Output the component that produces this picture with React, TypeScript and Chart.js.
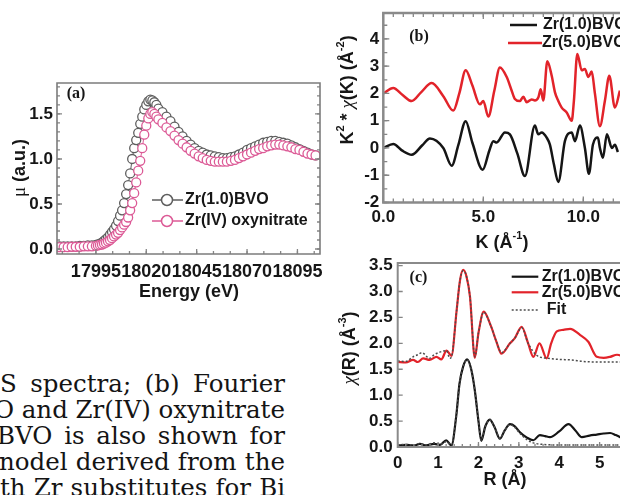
import React, { useEffect, useRef } from 'react';
import { Chart, registerables } from 'chart.js';

Chart.register(...registerables);

// ---------------- Panel (a): XANES ----------------
const energyA = [17977, 17979, 17981, 17983, 17985, 17987, 17989, 17991, 17993, 17995,
  17996, 17997, 17998, 17999, 18000, 18001, 18002, 18003, 18004, 18005, 18006, 18007, 18008, 18009, 18010,
  18011, 18012, 18013, 18014, 18015, 18016, 18017, 18018, 18019, 18020, 18021, 18022, 18023, 18024, 18025, 18026,
  18028, 18030, 18032, 18034, 18036, 18038, 18040, 18042, 18044, 18046, 18048, 18050, 18052, 18054, 18056,
  18058, 18060, 18062, 18064, 18066, 18068, 18070, 18072, 18074, 18076, 18078, 18080, 18082, 18084, 18086,
  18088, 18090, 18092, 18094, 18096, 18098, 18100, 18102, 18104];
const muBVO = [0.03, 0.03, 0.03, 0.03, 0.03, 0.035, 0.035, 0.04, 0.04, 0.045,
  0.05, 0.06, 0.07, 0.09, 0.11, 0.13, 0.16, 0.19, 0.22, 0.26, 0.31, 0.37, 0.43, 0.51, 0.61,
  0.71, 0.84, 1.00, 1.12, 1.21, 1.29, 1.39, 1.47, 1.55, 1.60, 1.64, 1.66, 1.65, 1.63, 1.60, 1.56,
  1.52, 1.47, 1.42, 1.36, 1.30, 1.25, 1.20, 1.16, 1.12, 1.09, 1.07, 1.05, 1.04, 1.03, 1.02,
  1.01, 1.01, 1.02, 1.03, 1.05, 1.07, 1.10, 1.12, 1.14, 1.16, 1.18, 1.19, 1.20, 1.20, 1.19,
  1.18, 1.17, 1.15, 1.13, 1.11, 1.09, 1.07, 1.05, 1.04];
const muOxy = [0.02, 0.02, 0.02, 0.025, 0.025, 0.025, 0.03, 0.03, 0.03, 0.035,
  0.04, 0.045, 0.05, 0.06, 0.07, 0.085, 0.10, 0.12, 0.14, 0.16, 0.18, 0.21, 0.24, 0.27, 0.30,
  0.35, 0.43, 0.51, 0.62, 0.74, 0.87, 0.98, 1.12, 1.27, 1.37, 1.45, 1.50, 1.52, 1.50, 1.47, 1.44,
  1.40, 1.35, 1.31, 1.26, 1.21, 1.17, 1.13, 1.09, 1.06, 1.03, 1.01, 0.99, 0.98, 0.97, 0.97,
  0.97, 0.97, 0.98, 0.99, 1.01, 1.03, 1.05, 1.07, 1.09, 1.11, 1.12, 1.14, 1.15, 1.16, 1.16,
  1.15, 1.14, 1.13, 1.11, 1.10, 1.08, 1.06, 1.05, 1.04];
const ticksAX = [17995, 18020, 18045, 18070, 18095];
const ticksAY = [0, 0.5, 1.0, 1.5];

// ---------------- Panel (b): k-space EXAFS ----------------
const kRed = [0, 0.5, 0.95, 1.42, 1.9, 2.42, 3.0, 3.5, 3.8, 4.12, 4.45, 4.83, 5.0, 5.25, 5.55, 5.83, 6.17, 6.42, 6.58, 6.83,
  7.0, 7.17, 7.42, 7.58, 7.75, 7.87, 8.0, 8.2, 8.42, 8.58, 8.75, 8.92, 9.17, 9.42, 9.53, 9.7, 9.92, 10.08, 10.25, 10.42,
  10.58, 10.83, 11.08, 11.3, 11.58, 11.83];
const chiKRed = [2.0, 2.2, 1.95, 1.72, 2.05, 2.38, 1.9, 1.37, 2.0, 2.85, 2.3, 1.6, 1.72, 1.15, 2.1, 2.95, 2.6, 2.1, 1.8, 1.72,
  1.88, 1.68, 1.78, 1.74, 1.85, 2.15, 1.74, 3.18, 2.65, 2.05, 1.72, 1.48, 1.3, 1.0, 1.73, 3.45, 2.85, 2.9, 2.6, 2.8,
  2.0, 0.8, 1.73, 2.65, 1.48, 2.1];
const kBlack = [0, 0.5, 0.95, 1.42, 1.95, 2.33, 3.0, 3.42, 3.75, 4.12, 4.45, 4.97, 5.3, 5.5, 5.67, 6.08, 6.33, 6.7, 7.08, 7.58,
  7.75, 7.92, 8.17, 8.33, 8.53, 8.75, 9.08, 9.42, 9.58, 9.83, 10.08, 10.28, 10.48, 10.73, 10.83, 10.98, 11.18, 11.43, 11.58, 11.73];
const chiKBlack = [0.0, 0.15, -0.1, -0.25, 0.1, 0.35, 0.0, -0.65, 0.1, 0.98, 0.2, -0.8, -0.1, 0.25, 0.2, 0.57, 0.5, -0.2, -1.03, 0.82,
  0.5, 0.57, 0.38, 0.12, -0.6, -1.25, 0.25, 0.57, 0.25, 0.82, 0.0, -0.95, 0.12, 0.38, 0.0, -0.36, 0.5, 0.0, 0.12, -0.15];
const ticksBX = [0, 5, 10];
const ticksBY = [-2, -1, 0, 1, 2, 3, 4];

// ---------------- Panel (c): R-space ----------------
const rRed = [0, 0.2, 0.38, 0.5, 0.63, 0.79, 0.96, 1.08, 1.21, 1.33, 1.46, 1.54, 1.62, 1.7, 1.79, 1.91, 2.0, 2.13, 2.3, 2.45,
  2.57, 2.78, 2.9, 3.07, 3.23, 3.36, 3.51, 3.69, 3.8, 3.94, 4.1, 4.27, 4.52, 4.72, 4.93, 5.1, 5.26, 5.43, 5.6];
const chiRRed = [1.64, 1.63, 1.68, 1.64, 1.71, 1.68, 1.74, 1.69, 1.86, 1.76, 2.64, 3.2, 3.42, 3.3, 2.9, 1.72, 2.2, 2.61, 2.35, 2.02,
  1.8, 2.0, 2.1, 2.32, 2.0, 1.74, 2.0, 1.71, 2.0, 2.23, 2.26, 2.28, 2.16, 2.03, 1.74, 1.72, 1.74, 1.78, 1.74];
const rRedFit = [0, 0.2, 0.38, 0.5, 0.6, 0.79, 0.9, 1.04, 1.21, 1.29, 1.35, 1.46, 1.54, 1.62, 1.7, 1.79, 1.91, 2.0, 2.13, 2.3,
  2.45, 2.57, 2.78, 2.9, 3.07, 3.23, 3.44, 3.73, 4.0, 4.3, 4.6, 4.96, 5.2, 5.6];
const chiRRedFit = [1.66, 1.65, 1.74, 1.78, 1.82, 1.71, 1.78, 1.83, 1.86, 1.71, 1.8, 2.64, 3.2, 3.4, 3.3, 2.9, 1.74, 2.2, 2.6, 2.35,
  2.02, 1.82, 2.0, 2.1, 2.3, 2.0, 1.77, 1.71, 1.69, 1.68, 1.65, 1.64, 1.64, 1.64];
const rBlack = [0, 0.2, 0.4, 0.55, 0.7, 0.9, 1.05, 1.2, 1.33, 1.45, 1.53, 1.62, 1.72, 1.82, 1.91, 2.0, 2.07, 2.17, 2.28, 2.4,
  2.53, 2.65, 2.78, 2.9, 3.02, 3.2, 3.36, 3.52, 3.65, 3.77, 4.0, 4.23, 4.4, 4.56, 4.75, 4.93, 5.1, 5.26, 5.4, 5.6];
const chiRBlack = [0.03, 0.04, 0.03, 0.06, 0.03, 0.06, 0.04, 0.13, 0.03, 0.6, 1.22, 1.55, 1.69, 1.5, 1.09, 0.5, 0.12, 0.4, 0.53, 0.38,
  0.16, 0.32, 0.44, 0.4, 0.29, 0.18, 0.13, 0.23, 0.21, 0.19, 0.3, 0.44, 0.32, 0.19, 0.22, 0.24, 0.26, 0.27, 0.23, 0.15];
const rBlackFit = [0, 0.2, 0.4, 0.55, 0.7, 0.9, 1.05, 1.2, 1.33, 1.45, 1.53, 1.62, 1.72, 1.82, 1.91, 2.0, 2.07, 2.17, 2.28, 2.4,
  2.53, 2.65, 2.78, 2.9, 3.02, 3.2, 3.36, 3.6, 4.0, 4.5, 5.0, 5.6];
const chiRBlackFit = [0.04, 0.05, 0.04, 0.07, 0.04, 0.08, 0.05, 0.1, 0.04, 0.6, 1.22, 1.55, 1.68, 1.5, 1.09, 0.5, 0.13, 0.4, 0.52, 0.38,
  0.17, 0.32, 0.43, 0.38, 0.27, 0.14, 0.08, 0.05, 0.04, 0.04, 0.04, 0.04];
const ticksCX = [0, 1, 2, 3, 4, 5];
const ticksCY = [0, 0.5, 1.0, 1.5, 2.0, 2.5, 3.0, 3.5];

// ---------------- Caption fragment ----------------
const captionLines = [
  ['S', 'spectra;', '(b)', 'Fourier'],
  ['O', 'and', 'Zr(IV)', 'oxynitrate'],
  ['BVO', 'is', 'also', 'shown', 'for'],
  ['nodel', 'derived', 'from', 'the'],
  ['th', 'Zr', 'substitutes', 'for', 'Bi'],
];
const captionLeft = [0, -6, -3, -1, 0];

// ---------------- style constants ----------------
const SANS = '"Liberation Sans", Arial, Helvetica, sans-serif';
const SERIF = '"Liberation Serif", "Times New Roman", serif';
const INK = '#161616';
const PINK = '#dc5a96';
const GRAYMK = '#5e5e5e';
const RED = '#e2232a';
const BLK = '#151515';
const FITC = '#4c4c4c';
const FRAME = '#858585';

const xy = (xs: number[], ys: number[]) => xs.map((x, i) => ({ x, y: ys[i] }));
const rng = (a: number, b: number, step: number) => {
  const out: number[] = [];
  const n = Math.round((b - a) / step);
  for (let i = 0; i <= n; i++) out.push(+(a + i * step).toFixed(5));
  return out;
};

type Seg = { t: string; f: string; dy?: number };
function rich(ctx: CanvasRenderingContext2D, segs: Seg[], x: number, y: number, rot = false, align: 'center' | 'left' = 'center') {
  ctx.save();
  ctx.translate(x, y);
  if (rot) ctx.rotate(-Math.PI / 2);
  ctx.textBaseline = 'middle';
  ctx.textAlign = 'left';
  ctx.fillStyle = INK;
  let w = 0;
  for (const s of segs) { ctx.font = s.f; w += ctx.measureText(s.t).width; }
  let cx = align === 'center' ? -w / 2 : 0;
  for (const s of segs) { ctx.font = s.f; ctx.fillText(s.t, cx, s.dy || 0); cx += ctx.measureText(s.t).width; }
  ctx.restore();
}

function frame(ctx: CanvasRenderingContext2D, a: any, sides: string[], color: string, lw: number) {
  ctx.save();
  ctx.strokeStyle = color;
  ctx.lineWidth = lw;
  ctx.lineCap = 'square';
  ctx.beginPath();
  if (sides.includes('left')) { ctx.moveTo(a.left, a.top); ctx.lineTo(a.left, a.bottom); }
  if (sides.includes('right')) { ctx.moveTo(a.right, a.top); ctx.lineTo(a.right, a.bottom); }
  if (sides.includes('top')) { ctx.moveTo(a.left, a.top); ctx.lineTo(a.right, a.top); }
  if (sides.includes('bottom')) { ctx.moveTo(a.left, a.bottom); ctx.lineTo(a.right, a.bottom); }
  ctx.stroke();
  ctx.restore();
}

function tickMarks(chart: any, axis: 'x' | 'y', values: number[], len: number, sides: string[], color = FRAME, lw = 1.3) {
  const ctx = chart.ctx as CanvasRenderingContext2D;
  const a = chart.chartArea;
  const sc = chart.scales[axis];
  ctx.save();
  ctx.strokeStyle = color;
  ctx.lineWidth = lw;
  ctx.beginPath();
  for (const v of values) {
    const p = sc.getPixelForValue(v);
    if (axis === 'x') {
      if (p < a.left - 0.5 || p > a.right + 0.5) continue;
      if (sides.includes('bottom')) { ctx.moveTo(p, a.bottom); ctx.lineTo(p, a.bottom - len); }
      if (sides.includes('top')) { ctx.moveTo(p, a.top); ctx.lineTo(p, a.top + len); }
    } else {
      if (p < a.top - 0.5 || p > a.bottom + 0.5) continue;
      if (sides.includes('left')) { ctx.moveTo(a.left, p); ctx.lineTo(a.left + len, p); }
      if (sides.includes('right')) { ctx.moveTo(a.right, p); ctx.lineTo(a.right - len, p); }
    }
  }
  ctx.stroke();
  ctx.restore();
}

function legendLine(ctx: CanvasRenderingContext2D, x1: number, x2: number, y: number, color: string, lw: number, dash: number[] = []) {
  ctx.save();
  ctx.strokeStyle = color;
  ctx.lineWidth = lw;
  ctx.setLineDash(dash);
  ctx.beginPath();
  ctx.moveTo(x1, y);
  ctx.lineTo(x2, y);
  ctx.stroke();
  ctx.restore();
}

function legendText(ctx: CanvasRenderingContext2D, text: string, x: number, y: number, size = 16) {
  ctx.save();
  ctx.font = `bold ${size}px ${SANS}`;
  ctx.fillStyle = INK;
  ctx.textBaseline = 'middle';
  ctx.textAlign = 'left';
  ctx.fillText(text, x, y);
  ctx.restore();
}

const fixAxis = (size: number, horizontal: boolean) => (s: any) => {
  if (horizontal) s.height = size; else s.width = size;
  s.paddingLeft = 0; s.paddingRight = 0; s.paddingTop = 0; s.paddingBottom = 0;
};

const tickFont = (size: number) => ({ family: SANS, size, weight: 'bold' as const });

function axis(min: number, max: number, ticks: number[], fmt: (v: number) => string, size: number, horizontal: boolean, pad: number, fontSize: number) {
  return {
    type: 'linear' as const,
    min,
    max,
    grid: { display: false, drawTicks: false },
    border: { display: false },
    afterBuildTicks: (s: any) => { s.ticks = ticks.map((v) => ({ value: v })); },
    ticks: { autoSkip: false, maxRotation: 0, minRotation: 0, padding: pad, color: INK, font: tickFont(fontSize), callback: (v: any) => fmt(Number(v)) },
    afterFit: fixAxis(size, horizontal),
  };
}

const baseOptions = (padding: any) => ({
  responsive: false,
  animation: false as const,
  events: [] as any[],
  layout: { padding },
  plugins: { legend: { display: false }, tooltip: { enabled: false } },
});

// ---------------- chart configs ----------------
function configA(): any {
  const decor = {
    id: 'decorA',
    afterDraw(chart: any) {
      const ctx = chart.ctx as CanvasRenderingContext2D;
      tickMarks(chart, 'x', rng(17995 - 50 / 3, 18110, 25 / 3), 3, ['bottom']);
      tickMarks(chart, 'x', ticksAX, 5, ['bottom']);
      tickMarks(chart, 'y', rng(0, 1.8, 0.1), 3, ['left', 'right']);
      tickMarks(chart, 'y', ticksAY, 5, ['left', 'right']);
      frame(ctx, chart.chartArea, ['left', 'right', 'top', 'bottom'], '#7c7c7c', 1.6);
      rich(ctx, [{ t: '(a)', f: `bold 16px ${SERIF}` }], 76, 94);
      // legend
      legendLine(ctx, 152, 183, 200, GRAYMK, 1.5);
      ctx.save(); ctx.fillStyle = '#fff'; ctx.strokeStyle = GRAYMK; ctx.lineWidth = 1.5;
      ctx.beginPath(); ctx.arc(167, 200, 5.5, 0, Math.PI * 2); ctx.fill(); ctx.stroke(); ctx.restore();
      legendText(ctx, 'Zr(1.0)BVO', 185, 200);
      legendLine(ctx, 152, 183, 221, PINK, 1.5);
      ctx.save(); ctx.fillStyle = '#fff'; ctx.strokeStyle = PINK; ctx.lineWidth = 1.5;
      ctx.beginPath(); ctx.arc(167, 221, 5.5, 0, Math.PI * 2); ctx.fill(); ctx.stroke(); ctx.restore();
      legendText(ctx, 'Zr(IV) oxynitrate', 185, 221);
      // axis titles
      rich(ctx, [{ t: 'μ', f: `19px ${SERIF}` }, { t: ' (a.u.)', f: `bold 18px ${SANS}` }], 20, 168, true);
      rich(ctx, [{ t: 'Energy (eV)', f: `bold 18px ${SANS}` }], 189, 292);
    },
  };
  const pt = (color: string, order: number, data: any) => ({
    data,
    order,
    borderColor: color,
    backgroundColor: '#ffffff',
    borderWidth: 1,
    pointRadius: 4.5,
    pointBorderWidth: 1.3,
    pointBorderColor: color,
    pointBackgroundColor: '#ffffff',
    tension: 0,
  });
  return {
    type: 'line',
    data: { datasets: [pt(PINK, 0, xy(energyA, muOxy)), pt(GRAYMK, 1, xy(energyA, muBVO))] },
    options: {
      ...baseOptions({ left: 0, top: 83, right: 10, bottom: 0 }),
      scales: {
        x: axis(17975.7, 18106.2, ticksAX, (v) => String(v), 56, true, 7, 18),
        y: axis(-0.0556, 1.844, ticksAY, (v) => v.toFixed(1), 57, false, 4, 17),
      },
    },
    plugins: [decor],
  };
}

function configB(): any {
  const decor = {
    id: 'decorB',
    afterDraw(chart: any) {
      const ctx = chart.ctx as CanvasRenderingContext2D;
      tickMarks(chart, 'x', rng(0, 13, 0.5), 4, ['bottom', 'top']);
      tickMarks(chart, 'x', ticksBX, 6, ['bottom', 'top']);
      tickMarks(chart, 'y', rng(-2, 4.5, 0.5), 4, ['left']);
      tickMarks(chart, 'y', ticksBY, 6, ['left']);
      frame(ctx, chart.chartArea, ['left', 'top', 'bottom'], '#8a8a8a', 2.5);
      rich(ctx, [{ t: '(b)', f: `bold 16px ${SERIF}` }], 99, 36.5);
      legendLine(ctx, 190, 217, 25, BLK, 2.5);
      legendText(ctx, 'Zr(1.0)BVO', 223, 25);
      legendLine(ctx, 188, 222, 43, RED, 2.5);
      legendText(ctx, 'Zr(5.0)BVO', 222, 43);
      const B = `bold 18px ${SANS}`;
      const S = `bold 11px ${SANS}`;
      rich(ctx, [
        { t: 'K', f: B }, { t: '2', f: S, dy: -7 }, { t: ' * ', f: B }, { t: 'χ', f: `italic 19px ${SERIF}` },
        { t: '(K) (Å', f: B }, { t: '-2', f: S, dy: -7 }, { t: ')', f: B },
      ], 28, 90, true);
      rich(ctx, [{ t: 'K (Å', f: B }, { t: '-1', f: S, dy: -7 }, { t: ')', f: B }], 182, 243);
    },
  };
  const line = (color: string, order: number, data: any) => ({
    data, order, borderColor: color, borderWidth: 2.5, pointRadius: 0, cubicInterpolationMode: 'monotone', fill: false,
  });
  return {
    type: 'line',
    data: { datasets: [line(RED, 1, xy(kRed, chiKRed)), line(BLK, 0, xy(kBlack, chiKBlack))] },
    options: {
      ...baseOptions({ left: 0, top: 13, right: 16.7, bottom: 0 }),
      scales: {
        x: axis(0, 13, ticksBX, (v) => v.toFixed(1), 57.5, true, 5, 17),
        y: axis(-2, 4.95, ticksBY, (v) => String(v), 63.3, false, 4, 17),
      },
    },
    plugins: [decor],
  };
}

function configC(): any {
  const decor = {
    id: 'decorC',
    afterDraw(chart: any) {
      const ctx = chart.ctx as CanvasRenderingContext2D;
      tickMarks(chart, 'x', rng(0, 6, 0.2), 3, ['bottom']);
      tickMarks(chart, 'x', ticksCX, 5, ['bottom']);
      tickMarks(chart, 'y', ticksCY, 5, ['left']);
      frame(ctx, chart.chartArea, ['left', 'top', 'bottom'], '#8a8a8a', 2);
      rich(ctx, [{ t: '(c)', f: `bold 16px ${SERIF}` }], 98.5, 28);
      legendLine(ctx, 191.7, 218.3, 26.7, BLK, 2.2);
      legendText(ctx, 'Zr(1.0)BVO', 221.7, 26.7);
      legendLine(ctx, 191.7, 218.3, 42.3, RED, 2.2);
      legendText(ctx, 'Zr(5.0)BVO', 221.7, 42.3);
      legendLine(ctx, 191.7, 218.3, 60, FITC, 1.5, [2, 2]);
      legendText(ctx, 'Fit', 226.7, 60);
      const B = `bold 18px ${SANS}`;
      const S = `bold 11px ${SANS}`;
      rich(ctx, [{ t: 'χ', f: `italic 19px ${SERIF}` }, { t: '(R) (Å', f: B }, { t: '-3', f: S, dy: -7 }, { t: ')', f: B }], 30, 98, true);
      rich(ctx, [{ t: 'R (Å)', f: B }], 185, 230);
    },
  };
  const line = (color: string, order: number, data: any, width: number, dash: number[] = []) => ({
    data, order, borderColor: color, borderWidth: width, borderDash: dash, pointRadius: 0, cubicInterpolationMode: 'monotone', fill: false,
  });
  return {
    type: 'line',
    data: {
      datasets: [
        line(RED, 2, xy(rRed, chiRRed), 2.2),
        line(BLK, 2, xy(rBlack, chiRBlack), 2.2),
        line(FITC, 0, xy(rRedFit, chiRRedFit), 1.5, [2, 2]),
        line(FITC, 0, xy(rBlackFit, chiRBlackFit), 1.5, [2, 2]),
      ],
    },
    options: {
      ...baseOptions({ left: 0, top: 13, right: 20, bottom: 0 }),
      scales: {
        x: axis(0, 6, ticksCX, (v) => String(v), 48, true, 6, 17),
        y: axis(0, 3.55, ticksCY, (v) => v.toFixed(1), 77.7, false, 5, 17),
      },
    },
    plugins: [decor],
  };
}

function ChartCanvas({ make, width, height }: { make: () => any; width: number; height: number }) {
  const ref = useRef<HTMLCanvasElement | null>(null);
  useEffect(() => {
    if (!ref.current) return;
    const chart = new Chart(ref.current, make());
    return () => chart.destroy();
  }, []);
  return <canvas ref={ref} width={width} height={height} style={{ display: 'block', width, height }} />;
}

export default function App() {
  return (
    <div style={{ position: 'absolute', left: 0, top: 0, width: 620, height: 495, overflow: 'hidden', background: '#ffffff' }}>
      <div style={{ position: 'absolute', left: 0, top: 0, width: 330, height: 310 }}>
        <ChartCanvas make={configA} width={330} height={310} />
      </div>
      <div style={{ position: 'absolute', left: 320, top: 0, width: 300, height: 260, overflow: 'hidden' }}>
        <ChartCanvas make={configB} width={340} height={260} />
      </div>
      <div style={{ position: 'absolute', left: 320, top: 250, width: 300, height: 245, overflow: 'hidden' }}>
        <ChartCanvas make={configC} width={340} height={245} />
      </div>
      <div style={{ position: 'absolute', left: 0, top: 360, width: 300, height: 135, overflow: 'hidden' }}>
        {captionLines.map((words, i) => (
          <div
            key={i}
            style={{
              position: 'absolute',
              left: captionLeft[i],
              top: 11 + i * 26,
              width: 285 - captionLeft[i],
              height: 26,
              display: 'flex',
              justifyContent: 'space-between',
              fontFamily: '"DejaVu Serif", serif',
              fontSize: 24.5,
              lineHeight: '26px',
              color: '#141414',
              whiteSpace: 'nowrap',
            }}
          >
            {words.map((w, j) => (
              <span key={j} style={{ flex: '0 0 auto' }}>{w}</span>
            ))}
          </div>
        ))}
      </div>
    </div>
  );
}
